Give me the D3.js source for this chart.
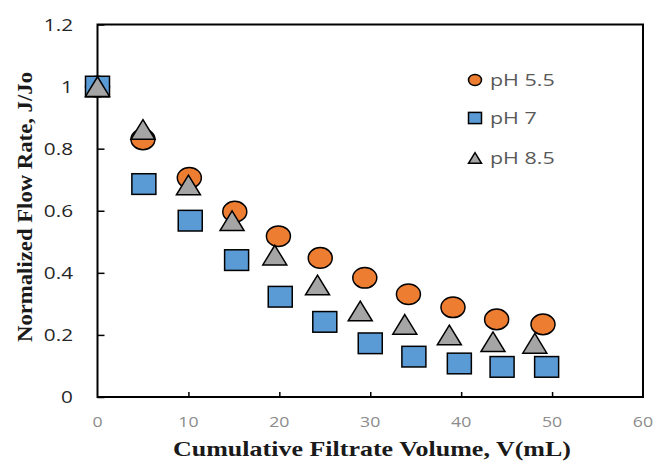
<!DOCTYPE html>
<html lang="en">
<head>
<meta charset="UTF-8">
<title>Normalized Flow Rate vs Cumulative Filtrate Volume</title>
<script src="https://d3js.org/d3.v7.min.js"></script>
<style>
    body { margin: 0; background: #fff; }
    .tick-y { font-family: "Open Sans", "DejaVu Sans", sans-serif; font-size: 17px; fill: #262626; }
    .tick-x { font-family: "Open Sans", "DejaVu Sans", sans-serif; font-size: 14.5px; fill: #8c8c8c; }
    .axis-title { font-family: "Liberation Serif", "Times New Roman", serif; font-weight: bold; fill: #1a1a1a; }
    .legend { font-family: "Open Sans", "DejaVu Sans", sans-serif; font-size: 16.5px; fill: #595959; }
</style>
</head>
<body>
<svg id="chart" width="654" height="461"></svg>
<script>
    // values
    const seriesNames = ["pH 5.5", "pH 7", "pH 8.5"];
    const xTicks = [0, 10, 20, 30, 40, 50, 60];
    const yTicks = [0, 0.2, 0.4, 0.6, 0.8, 1, 1.2];

    const ph55 = [
        [0, 1], [5.0, 0.83], [10.1, 0.706], [15.1, 0.597], [19.9, 0.518], [24.5, 0.448],
        [29.4, 0.384], [34.2, 0.331], [39.1, 0.289], [43.9, 0.25], [49.0, 0.234]
    ];
    const ph7 = [
        [0, 1], [5.1, 0.686], [10.2, 0.568], [15.3, 0.441], [20.1, 0.323], [25.0, 0.242],
        [30.0, 0.173], [34.8, 0.13], [39.8, 0.108], [44.5, 0.097], [49.4, 0.097]
    ];
    const ph85 = [
        [0, 1], [5.0, 0.862], [10.0, 0.683], [14.8, 0.568], [19.5, 0.457], [24.2, 0.361],
        [28.9, 0.277], [33.8, 0.234], [38.7, 0.2], [43.5, 0.178], [48.1, 0.173]
    ];

    const colors = ["#ED7D31", "#5B9BD5", "#A5A5A5"];

    const svg = d3.select("#chart");
    const plotLeft = 97.5, plotRight = 643, plotTop = 24.5, plotBottom = 397;

    const x = d3.scaleLinear().domain([0, 60]).range([plotLeft, plotRight]);
    const y = d3.scaleLinear().domain([0, 1.2]).range([plotBottom, plotTop]);

    // the source picture is a bit wider than tall, so widen the sans text
    function stretch(sel, k) {
        sel.each(function() {
            const len = this.getComputedTextLength();
            d3.select(this).attr("textLength", len * k).attr("lengthAdjust", "spacingAndGlyphs");
        });
    }

    // plot frame
    svg.append("rect")
        .attr("x", plotLeft).attr("y", plotTop)
        .attr("width", plotRight - plotLeft).attr("height", plotBottom - plotTop)
        .attr("fill", "none").attr("stroke", "#000").attr("stroke-width", 2);

    // axes with inward ticks
    const yAxis = svg.append("g")
        .attr("transform", `translate(${plotLeft},0)`)
        .call(d3.axisRight(y).tickValues(yTicks).tickSize(7).tickFormat(""));
    yAxis.select(".domain").remove();
    yAxis.selectAll("line").attr("stroke", "#000").attr("stroke-width", 1.5);

    const xAxis = svg.append("g")
        .attr("transform", `translate(0,${plotBottom})`)
        .call(d3.axisTop(x).tickValues(xTicks.slice(1, 6)).tickSize(5).tickFormat(""));
    xAxis.select(".domain").remove();
    xAxis.selectAll("line").attr("stroke", "#000").attr("stroke-width", 1.5);

    svg.selectAll(".tick-y")
        .data(yTicks)
        .join("text")
        .attr("class", "tick-y")
        .attr("x", 73)
        .attr("y", d => y(d))
        .attr("dy", "0.36em")
        .attr("text-anchor", "end")
        .text(d => d3.format("~g")(d))
        .call(stretch, 1.22);

    svg.selectAll(".tick-x")
        .data(xTicks)
        .join("text")
        .attr("class", "tick-x")
        .attr("x", d => x(d))
        .attr("y", 427)
        .attr("text-anchor", "middle")
        .text(d => d)
        .call(stretch, 1.22);

    // axis titles
    svg.append("text")
        .attr("class", "axis-title")
        .attr("x", 372).attr("y", 456)
        .attr("text-anchor", "middle")
        .attr("font-size", 21)
        .attr("textLength", 398)
        .attr("lengthAdjust", "spacingAndGlyphs")
        .text("Cumulative Filtrate Volume, V(mL)");

    svg.append("text")
        .attr("class", "axis-title")
        .attr("transform", "translate(32,207) rotate(-90)")
        .attr("text-anchor", "middle")
        .attr("font-size", 21)
        .attr("textLength", 270)
        .attr("lengthAdjust", "spacingAndGlyphs")
        .text("Normalized Flow Rate, J/Jo");

    // marker shapes
    function drawMarker(g, shape, cx, cy, s, fill) {
        if (shape === 0) {
            g.append("ellipse")
                .attr("cx", cx).attr("cy", cy)
                .attr("rx", s * 0.5).attr("ry", s * 0.43)
                .attr("fill", fill).attr("stroke", "#000").attr("stroke-width", 1.5);
        } else if (shape === 1) {
            g.append("rect")
                .attr("x", cx - s / 2).attr("y", cy - s * 0.43)
                .attr("width", s).attr("height", s * 0.86)
                .attr("fill", fill).attr("stroke", "#000").attr("stroke-width", 1.5);
        } else {
            const h = s * 0.82;
            g.append("path")
                .attr("d", `M${cx},${cy - h / 2}L${cx + s / 2},${cy + h / 2}L${cx - s / 2},${cy + h / 2}Z`)
                .attr("fill", fill).attr("stroke", "#000").attr("stroke-width", 1.5)
                .attr("stroke-linejoin", "miter");
        }
    }

    const allSeries = [ph55, ph7, ph85];
    allSeries.forEach((data, i) => {
        const g = svg.append("g");
        data.forEach(d => drawMarker(g, i, x(d[0]), y(d[1]), 24, colors[i]));
    });

    // legend
    const legendY = [80, 118, 158];
    seriesNames.forEach((name, i) => {
        const g = svg.append("g");
        drawMarker(g, i, 475, legendY[i], 13, colors[i]);
        g.append("text")
            .attr("class", "legend")
            .attr("x", 490).attr("y", legendY[i])
            .attr("dy", "0.36em")
            .text(name)
            .call(stretch, 1.3);
    });
</script>
</body>
</html>
